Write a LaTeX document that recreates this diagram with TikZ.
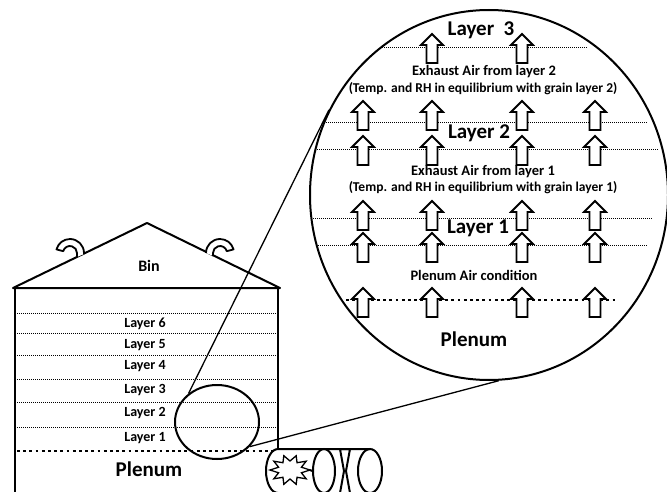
\documentclass[tikz,border=0pt]{standalone}
\usepackage{fontspec}
\setmainfont{Carlito}
\usetikzlibrary{shapes.geometric}

\tikzset{
  wall/.style={line width=2pt, line join=round},
  vent/.style={line width=1.8pt, fill=white, line join=round},
  layerline/.style={densely dotted, line width=1pt},
  plenumline/.style={line width=2.8pt, dash pattern=on 2.8pt off 3.4pt},
  zoomline/.style={line width=1.3pt},
  ring/.style={draw, ellipse, line width=2pt, inner sep=0pt},
  airarrow/.style={line width=1.8pt, fill=white, line join=miter},
  binlbl/.style={font=\bfseries\fontsize{14}{16}\selectfont},
  binname/.style={font=\bfseries\fontsize{16}{18}\selectfont},
  biglbl/.style={font=\bfseries\fontsize{21}{24}\selectfont},
  notelbl/.style={font=\bfseries\fontsize{14.5}{17}\selectfont},
  smalllbl/.style={font=\bfseries\fontsize{13.5}{16}\selectfont},
}

\begin{document}
\begin{tikzpicture}[x=1pt,y=1pt]
  \clip (0,0) rectangle (667,491);

  % bin: roof, walls, vents
  \draw[wall] (13,203) -- (147,268) -- (280,203) -- cycle;
  \draw[wall] (15,203) -- (15,-5);
  \draw[wall] (278,203) -- (278,42);
  \draw[vent] (84,237) -- (84,238) arc (0:165:14) -- ++(-15:7) arc (165:0:7) -- (77,234);
  \draw[vent] (206,238) arc (180:15:14) -- ++(195:7) arc (15:180:7) -- (213,235);
  \node[binname] (bin) at (149,225) {Bin};

  % grain layers
  \foreach \y in {178,158,136,112,89,64}
    \draw[layerline] (17,\y) -- (276,\y);
  \draw[plenumline] (17,40) -- (274,40);
  \foreach \n/\y in {6/167,5/146,4/125,3/101,2/78,1/53}
    \node[binlbl] (bl\n) at (145,\y) {Layer \n};
  \node[biglbl] (binplenum) at (149,22) {Plenum};

  % fan and heater
  \draw[wall] (370,42) -- (278,42) arc (90:270:12 and 22) -- (370,-2);
  \node[ring, minimum width=22pt, minimum height=44pt] (disc) at (324,20) {};
  \node[ring, minimum width=24pt, minimum height=44pt] (cap) at (370,20) {};
  \draw[wall] (340,42) -- (350,42) -- (346,20) -- (350,-2) -- (340,-2) -- (344,20) -- cycle;
  \coordinate (sparkc) at (290,21);
  \draw[vent, line width=1.3pt, line join=miter] (sparkc) ++(0:20 and 15)
    \foreach \a in {0,36,...,324} {
      -- ([shift={(\a+18:12 and 9)}]sparkc) -- ([shift={(\a+36:20 and 15)}]sparkc) } -- cycle;
  \coordinate (spark) at (310,21);
  \draw[wall] (spark) -- (disc.west);

  % zoom circles
  \node[ring, minimum width=84pt, minimum height=74pt] (zoomin) at (217,69) {};
  \node[ring, minimum width=358pt, minimum height=370pt] (zoomout) at (489,296) {};
  \draw[zoomline] (zoomin.135) -- (zoomout.152);
  \draw[zoomline] (zoomin.-37) -- (zoomout.-87);

  % inside the big circle
  \draw[layerline] (380,443) -- (587,443);
  \draw[layerline] (324,368) -- (648,368);
  \draw[layerline] (315,341) -- (658,341);
  \draw[layerline] (313,273) -- (652,273);
  \draw[layerline] (316,246) -- (648,246);
  \draw[plenumline] (346,191) -- (618,191);

  \foreach \x in {432,522}
    \draw[airarrow] (\x,428) ++(-5.5,0) -- ++(11,0) -- ++(0,18) -- ++(5.5,0)
      -- ++(-11,11) -- ++(-11,-11) -- ++(5.5,0) -- cycle;
  \foreach \y in {361,326,261,229,174}
    \foreach \x in {363,432,522,595}
      \draw[airarrow] (\x,\y) ++(-5.5,0) -- ++(11,0) -- ++(0,18) -- ++(5.5,0)
        -- ++(-11,11) -- ++(-11,-11) -- ++(5.5,0) -- cycle;

  \node[biglbl] (top3) at (481,461) {Layer~~3};
  \node[notelbl] (ex2) at (484,419) {Exhaust Air from layer 2};
  \node[smalllbl] (eq2) at (483,402) {(Temp. and RH in equilibrium with grain layer 2)};
  \node[biglbl] (mid2) at (479,358) {Layer 2};
  \node[notelbl] (ex1) at (483,319) {Exhaust Air from layer 1};
  \node[smalllbl] (eq1) at (483,303) {(Temp. and RH in equilibrium with grain layer 1)};
  \node[biglbl] (low1) at (478,263) {Layer 1};
  \node[notelbl] (pac) at (474,216) {Plenum Air condition};
  \node[biglbl] (zplenum) at (474,152) {Plenum};
\end{tikzpicture}
\end{document}
